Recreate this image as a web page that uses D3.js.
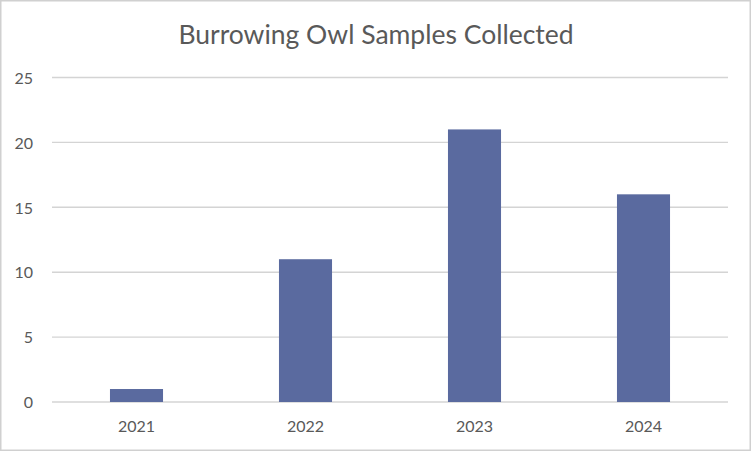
<!DOCTYPE html>
<html>
<head>
<meta charset="utf-8">
<script src="https://cdn.jsdelivr.net/npm/d3@7"></script>
<style>
  html, body { margin: 0; padding: 0; background: #fff; }
  svg { display: block; }
  text { font-family: Lato, "Open Sans", sans-serif; fill: #595959; }
</style>
</head>
<body>
<svg id="chart" width="752" height="452"></svg>
<script>
const years = ['2021', '2022', '2023', '2024'];
const samples = [1, 11, 21, 16];
const yTicks = [0, 5, 10, 15, 20, 25];
const chartTitle = 'Burrowing Owl Samples Collected';

const svg = d3.select('#chart');
const width = +svg.attr('width');
const height = +svg.attr('height');
const margin = {top: 77.5, right: 24, bottom: 50, left: 52};

// outer frame
svg.append('rect')
  .attr('x', 0.75).attr('y', 0.75)
  .attr('width', width - 2.5).attr('height', height - 2.5)
  .attr('fill', '#fff')
  .attr('stroke', '#d0d0d0')
  .attr('stroke-width', 1.5);

const x = d3.scaleBand()
  .domain(years)
  .range([margin.left, width - margin.right])
  .paddingInner(0.686)
  .paddingOuter(0.343);

const y = d3.scaleLinear()
  .domain([0, 25])
  .range([402, margin.top]);

// gridlines
svg.append('g')
  .selectAll('line')
  .data(yTicks)
  .join('line')
  .attr('x1', margin.left)
  .attr('x2', width - margin.right)
  .attr('y1', d => y(d))
  .attr('y2', d => y(d))
  .attr('stroke', '#d4d4d4')
  .attr('stroke-width', 1.4);

// y labels
const yAxis = d3.axisLeft(y).tickValues(yTicks).tickSize(0).tickPadding(0);
const yg = svg.append('g')
  .attr('transform', 'translate(33,0)')
  .call(yAxis);
yg.select('.domain').remove();
yg.selectAll('text')
  .attr('font-size', 16)
  .attr('dy', '0.36em')
  .style('font-family', 'Lato, sans-serif')
  .attr('fill', '#595959');

// bars
svg.append('g')
  .selectAll('rect')
  .data(years)
  .join('rect')
  .attr('x', d => x(d))
  .attr('width', x.bandwidth())
  .attr('y', (d, i) => y(samples[i]))
  .attr('height', (d, i) => y(0) - y(samples[i]))
  .attr('fill', '#5a6a9f');

// x labels
const xAxis = d3.axisBottom(x).tickSize(0).tickPadding(0);
const xg = svg.append('g')
  .attr('transform', 'translate(0,421)')
  .call(xAxis);
xg.select('.domain').remove();
xg.selectAll('text')
  .attr('font-size', 16)
  .attr('dy', '0.71em')
  .style('font-family', 'Lato, sans-serif')
  .attr('fill', '#595959');

// title
svg.append('text')
  .attr('x', 376)
  .attr('y', 43.5)
  .attr('text-anchor', 'middle')
  .attr('font-size', 26.5)
  .text(chartTitle);
</script>
</body>
</html>
